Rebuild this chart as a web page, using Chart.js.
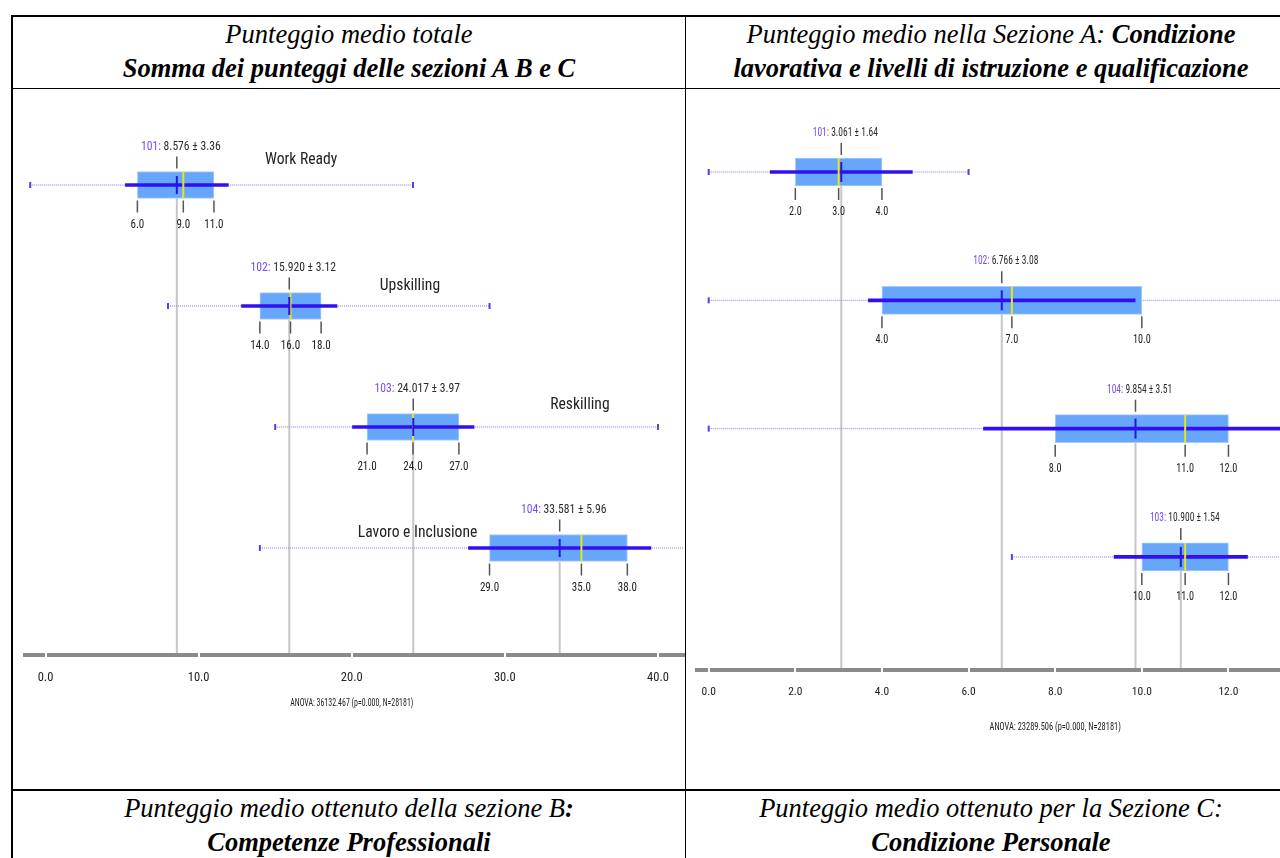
<!DOCTYPE html>
<html>
<head>
<meta charset="utf-8">
<script src="https://cdn.jsdelivr.net/npm/chart.js@4.4.1/dist/chart.umd.min.js"></script>
<style>
  html, body { margin: 0; padding: 0; background: #fff; }
  body { width: 1280px; height: 858px; overflow: hidden; position: relative; }
  .ln { position: absolute; background: #000; }
  .hd {
    position: absolute; text-align: center; white-space: nowrap; color: #000;
    font-family: "Liberation Serif", "Times New Roman", serif;
    font-style: italic; font-size: 26.5px; line-height: 34px;
  }
  .hd b { font-weight: bold; }
  canvas { position: absolute; }
</style>
</head>
<body>
<div class="ln" style="left:11px;top:15px;width:1290px;height:2px"></div>
<div class="ln" style="left:11px;top:88px;width:1290px;height:1px"></div>
<div class="ln" style="left:11px;top:789px;width:1290px;height:2px"></div>
<div class="ln" style="left:11px;top:15px;width:2px;height:850px"></div>
<div class="ln" style="left:685px;top:15px;width:1px;height:850px"></div>
<div class="ln" style="left:1296px;top:15px;width:1px;height:850px"></div>

<div class="hd" style="left:13px;top:17px;width:672px">Punteggio medio totale<br><b>Somma dei punteggi delle sezioni A B e C</b></div>
<div class="hd" style="left:686px;top:17px;width:610px">Punteggio medio nella Sezione A: <b>Condizione</b><br><b>lavorativa e livelli di istruzione e qualificazione</b></div>
<div class="hd" style="left:13px;top:791px;width:672px">Punteggio medio ottenuto della sezione B<b>:</b><br><b>Competenze Professionali</b></div>
<div class="hd" style="left:686px;top:791px;width:610px">Punteggio medio ottenuto per la Sezione C:<br><b>Condizione Personale</b></div>

<canvas id="left" width="672" height="699" style="left:13px;top:90px"></canvas>
<canvas id="right" width="607" height="699" style="left:688px;top:90px"></canvas>

<script>
// total score (sections A + B + C)
const leftGroups = ['101', '102', '103', '104'];
const leftNames = ['Work Ready', 'Upskilling', 'Reskilling', 'Lavoro e Inclusione'];
const leftMin = [-1, 8, 15, 14];
const leftQ1 = [6, 14, 21, 29];
const leftMedian = [9, 16, 24, 35];
const leftQ3 = [11, 18, 27, 38];
const leftMax = [24, 29, 40, 42];
const leftMean = [8.576, 15.920, 24.017, 33.581];
const leftSd = [3.36, 3.12, 3.97, 5.96];
const leftTicks = [0, 10, 20, 30, 40];
const leftAnova = 'ANOVA: 36132.467 (p=0.000, N=28181)';

// section A
const rightGroups = ['101', '102', '104', '103'];
const rightMin = [0, 0, 0, 7];
const rightQ1 = [2, 4, 8, 10];
const rightMedian = [3, 7, 11, 11];
const rightQ3 = [4, 10, 12, 12];
const rightMax = [6, 14, 14, 14];
const rightMean = [3.061, 6.766, 9.854, 10.900];
const rightSd = [1.64, 3.08, 3.51, 1.54];
const rightTicks = [0, 2, 4, 6, 8, 10, 12, 14];
const rightAnova = 'ANOVA: 23289.506 (p=0.000, N=28181)';

// pick a condensed sans if one is installed, otherwise squeeze the regular one
const probe = document.createElement('canvas').getContext('2d');
function hasFont(name) {
  probe.font = '40px monospace';
  const a = probe.measureText('Work Ready 0123').width;
  probe.font = `40px "${name}", monospace`;
  const b = probe.measureText('Work Ready 0123').width;
  return a !== b;
}
const narrowName = ['Roboto Condensed', 'DejaVu Sans Condensed', 'Liberation Sans Narrow'].find(hasFont);
const FAMILY = narrowName ? `"${narrowName}", "Liberation Sans", sans-serif` : '"Liberation Sans", Arial, sans-serif';
const SQ = narrowName ? 1 : 0.82;

function drawText(ctx, parts, x, y, size, sx, align) {
  ctx.save();
  ctx.font = `${size}px ${FAMILY}`;
  ctx.textBaseline = 'middle';
  ctx.textAlign = 'left';
  const k = sx * SQ;
  const w = parts.reduce((s, p) => s + ctx.measureText(p[0]).width, 0) * k;
  ctx.translate(align === 'center' ? x - w / 2 : x, y);
  ctx.scale(k, 1);
  let off = 0;
  parts.forEach(([t, c]) => {
    ctx.fillStyle = c;
    ctx.fillText(t, off, 0);
    off += ctx.measureText(t).width;
  });
  ctx.restore();
}

function makeDecor(d, look) {
  return {
    id: 'decor',
    beforeDatasetsDraw(chart) {
      const { ctx, scales: { x, y }, chartArea } = chart;
      ctx.save();
      ctx.strokeStyle = '#c6c6c6';
      ctx.lineWidth = 2;
      d.mean.forEach((m, i) => {
        const px = x.getPixelForValue(m);
        const yc = y.getPixelForValue(i);
        ctx.beginPath();
        ctx.moveTo(px, yc + look.box / 2);
        ctx.lineTo(px, chartArea.bottom - 2);
        ctx.stroke();
      });
      ctx.restore();
    },
    afterDatasetsDraw(chart) {
      const { ctx, scales: { x, y } } = chart;
      d.groups.forEach((g, i) => {
        const yc = y.getPixelForValue(i);
        const top = yc - look.box / 2;
        const bottom = yc + look.box / 2;
        const pm = x.getPixelForValue(d.mean[i]);
        ctx.save();
        ctx.strokeStyle = '#555';
        ctx.lineWidth = 1.5;
        ctx.beginPath();
        ctx.moveTo(pm, top - 15);
        ctx.lineTo(pm, top - 3);
        [d.q1[i], d.median[i], d.q3[i]].forEach(q => {
          const pq = x.getPixelForValue(q);
          ctx.moveTo(pq, bottom + 2);
          ctx.lineTo(pq, bottom + 14);
        });
        ctx.stroke();
        ctx.restore();
        [d.q1[i], d.median[i], d.q3[i]].forEach(q => {
          drawText(ctx, [[q.toFixed(1), '#222']], x.getPixelForValue(q), bottom + 26, look.qSize, look.qSx, 'center');
        });
        drawText(ctx, [[g + ':', '#7b4cf5'], [' ' + d.mean[i].toFixed(3) + ' \u00b1 ' + d.sd[i].toFixed(2), '#2b2b2b']],
          pm + 4, top - 25, look.labelSize, look.labelSx, 'center');
        if (d.names && look.names) {
          const [nx, ny] = look.names[i];
          drawText(ctx, [[d.names[i], '#222']], x.getPixelForValue(nx), yc + ny, look.nameSize, look.nameSx, 'center');
        }
      });
    },
    afterDraw(chart) {
      const { ctx, scales: { x }, chartArea } = chart;
      ctx.save();
      ctx.fillStyle = '#fff';
      d.ticks.forEach(t => {
        if (t < x.min || t > x.max) return;
        const px = Math.round(x.getPixelForValue(t));
        ctx.fillRect(px - 1, chartArea.bottom - 3, 2, 6);
      });
      ctx.restore();
      drawText(ctx, [[d.anova, '#222']], x.getPixelForValue(look.anovaAt), chartArea.bottom + look.anovaDy,
        look.anovaSize, look.anovaSx, 'center');
    }
  };
}

function boxChart(id, d, look) {
  const idx = d.groups.map((g, i) => i);
  const datasets = idx.map(i => ({
    type: 'line',
    data: [{ x: d.min[i], y: i }, { x: d.max[i], y: i }],
    borderColor: '#8579f6', borderWidth: 1, borderDash: [1, 1],
    pointStyle: 'line', pointRotation: 90, pointRadius: 3, pointBorderWidth: 2,
    pointBorderColor: '#5a3cf2', pointBackgroundColor: '#5a3cf2',
    order: 5
  }));
  datasets.push({
    type: 'bar',
    data: idx.map(i => ({ x: [d.q1[i], d.q3[i]], y: i })),
    backgroundColor: '#66a6fb', borderColor: '#a9cbff', borderWidth: 1, borderSkipped: false,
    barThickness: look.box, grouped: false, order: 4
  });
  datasets.push({
    type: 'bar',
    data: idx.map(i => ({ x: [d.mean[i] - d.sd[i], d.mean[i] + d.sd[i]], y: i })),
    backgroundColor: '#3010f0', borderWidth: 0,
    barThickness: 3, grouped: false, order: 3
  });
  datasets.push({
    type: 'line', showLine: false,
    data: idx.map(i => ({ x: d.median[i], y: i })),
    pointStyle: 'line', pointRotation: 90, pointRadius: look.box / 2, pointBorderWidth: 2,
    pointBorderColor: '#e6e619', order: 2
  });
  datasets.push({
    type: 'line', showLine: false,
    data: idx.map(i => ({ x: d.mean[i], y: i })),
    pointStyle: 'line', pointRotation: 90, pointRadius: look.meanR, pointBorderWidth: 2,
    pointBorderColor: '#2a14e0', order: 1
  });

  return new Chart(document.getElementById(id), {
    type: 'bar',
    data: { datasets },
    options: {
      indexAxis: 'y',
      responsive: false,
      animation: false,
      devicePixelRatio: 1,
      layout: { padding: look.pad, autoPadding: false },
      plugins: { legend: { display: false }, tooltip: { enabled: false } },
      scales: {
        x: {
          type: 'linear', min: look.xMin, max: look.xMax, offset: false,
          afterBuildTicks: s => { s.ticks = d.ticks.filter(v => v >= s.min && v <= s.max).map(v => ({ value: v })); },
          afterFit: s => { s.height = look.axisH; s.paddingLeft = 0; s.paddingRight = 0; },
          grid: { drawOnChartArea: false, drawTicks: true, tickLength: look.tickPad, tickColor: 'rgba(0,0,0,0)', offset: false },
          border: { display: true, width: 4, color: '#8a8a8a' },
          ticks: {
            padding: 0, color: '#222', autoSkip: false, maxRotation: 0,
            font: { family: FAMILY, size: look.tickSize },
            callback: v => Number(v).toFixed(1)
          }
        },
        y: {
          type: 'linear', display: false, reverse: true, offset: false,
          min: look.yMin, max: look.yMax,
          afterBuildTicks: s => { s.min = look.yMin; s.max = look.yMax; }
        }
      }
    },
    plugins: [makeDecor(d, look)]
  });
}

boxChart('left', {
  groups: leftGroups, names: leftNames, min: leftMin, q1: leftQ1, median: leftMedian, q3: leftQ3,
  max: leftMax, mean: leftMean, sd: leftSd, ticks: leftTicks, anova: leftAnova
}, {
  box: 27, meanR: 9, pad: { top: 10, left: 12, right: 1, bottom: 0 }, axisH: 134,
  xMin: -1.34, xMax: 41.7, yMin: -0.7025, yMax: 3.884,
  tickPad: 15, tickSize: 12.5,
  labelSize: 12.5, labelSx: 0.93, qSize: 12, qSx: 0.92,
  nameSize: 17, nameSx: 0.92, names: [[16.7, -25], [23.8, -20], [34.9, -22], [24.3, -15]],
  anovaAt: 20, anovaDy: 48, anovaSize: 10.5, anovaSx: 0.75
});

boxChart('right', {
  groups: rightGroups, min: rightMin, q1: rightQ1, median: rightMedian, q3: rightQ3,
  max: rightMax, mean: rightMean, sd: rightSd, ticks: rightTicks, anova: rightAnova
}, {
  box: 28, meanR: 10, pad: { top: 10, left: 9, right: 2, bottom: 0 }, axisH: 119,
  xMin: -0.27, xMax: 13.49, yMin: -0.561, yMax: 3.881,
  tickPad: 15, tickSize: 11.5,
  labelSize: 12.5, labelSx: 0.76, qSize: 12, qSx: 0.85,
  anovaAt: 8, anovaDy: 57, anovaSize: 10.5, anovaSx: 0.8
});
</script>
</body>
</html>
